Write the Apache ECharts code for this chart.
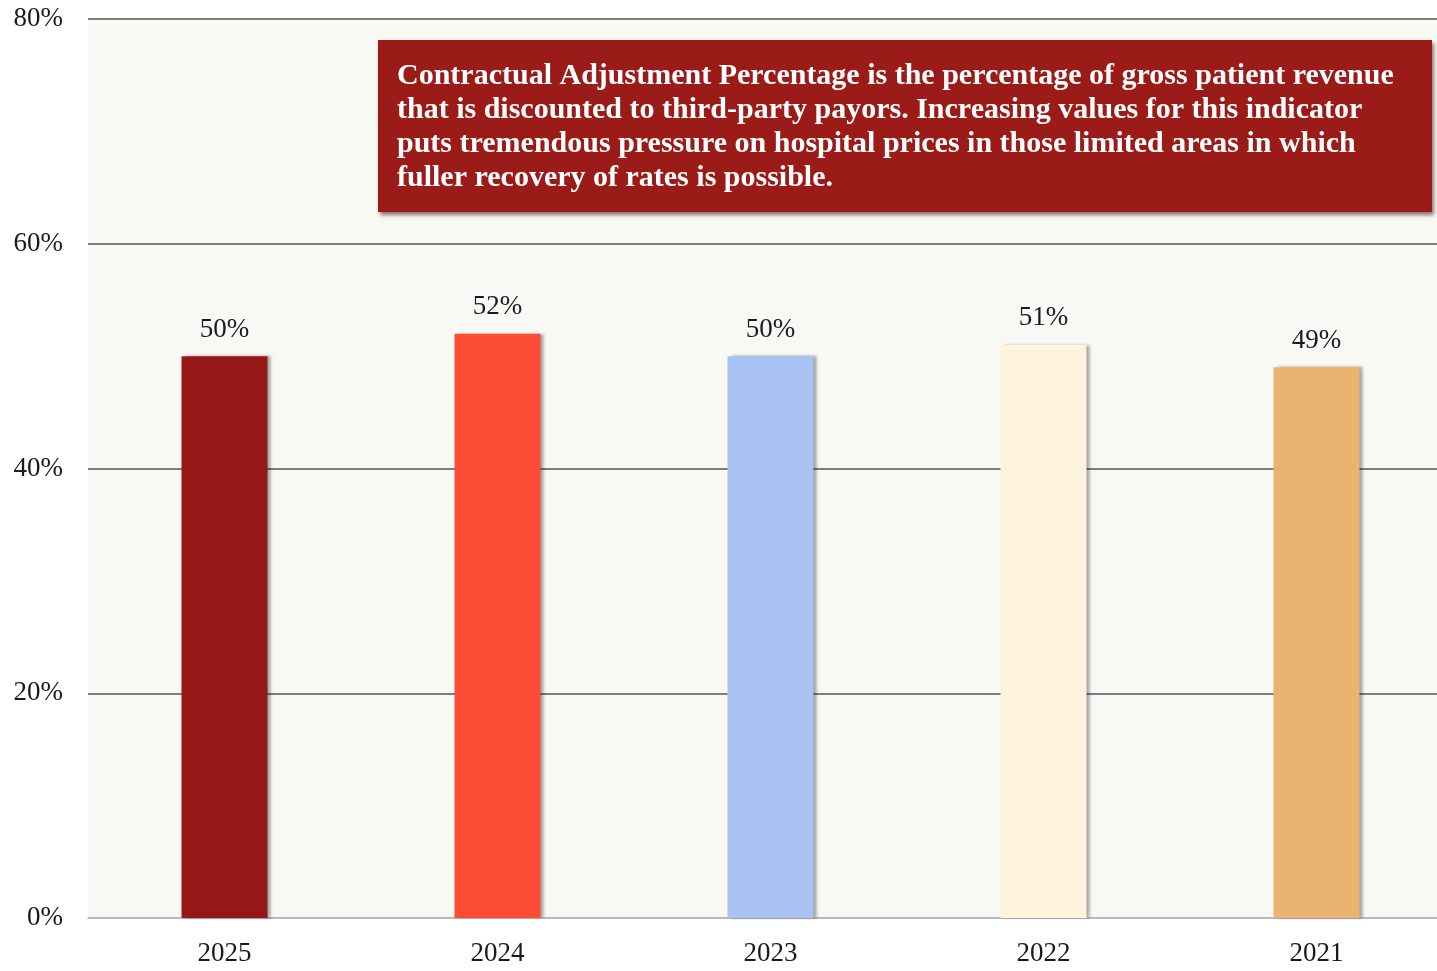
<!DOCTYPE html>
<html>
<head>
<meta charset="utf-8">
<script src="https://cdn.jsdelivr.net/npm/echarts@6/dist/echarts.min.js"></script>
<style>
  html, body { margin: 0; padding: 0; background: #ffffff; overflow: hidden; }
  #chart { width: 1437px; height: 971px; }
</style>
</head>
<body>
<div id="chart"></div>
<script>
// Fiscal years, most recent first
const years = ['2025', '2024', '2023', '2022', '2021'];
// Contractual adjustment percentage per year
const values = [50, 52, 50, 51, 49];
// Bar fill per year
const barColors = ['#961816', '#fb4d36', '#a8c3f3', '#fef4de', '#e9b46f'];
// Value axis ticks (percent)
const yTicks = [0, 20, 40, 60, 80];

const noteLines = [
  'Contractual Adjustment Percentage is the percentage of gross patient revenue',
  'that is discounted to third-party payors. Increasing values for this indicator',
  'puts tremendous pressure on hospital prices in those limited areas in which',
  'fuller recovery of rates is possible.'
];

const serif = '"Liberation Serif", "DejaVu Serif", serif';

const chart = echarts.init(document.getElementById('chart'));
chart.setOption({
  animation: false,
  backgroundColor: '#ffffff',
  grid: {
    left: 88, top: 19, width: 1365, height: 899,
    outerBoundsMode: 'none',
    containLabel: false,
    show: true, backgroundColor: '#f8f9f4', borderWidth: 0
  },
  xAxis: {
    type: 'category',
    data: years,
    axisLine: { show: true, lineStyle: { color: '#b5b5b5', width: 1.5 } },
    axisTick: { show: false },
    axisLabel: { color: '#1a1a1a', fontFamily: serif, fontSize: 27, margin: 22 }
  },
  yAxis: {
    type: 'value',
    min: yTicks[0], max: yTicks[yTicks.length - 1], interval: 20,
    axisLine: { show: false },
    axisTick: { show: false },
    axisLabel: { color: '#1a1a1a', fontFamily: serif, fontSize: 27, margin: 25, formatter: '{value}%' },
    splitLine: { lineStyle: { color: ['#b5b5b5', '#555555', '#555555', '#555555', '#555555'], width: 1.5 } }
  },
  series: [{
    type: 'bar',
    barWidth: 86,
    data: values.map((v, i) => ({
      value: v,
      itemStyle: { color: barColors[i] }
    })),
    itemStyle: {
      shadowColor: 'rgba(0,0,0,0.35)',
      shadowBlur: 3,
      shadowOffsetX: 3,
      shadowOffsetY: 0
    },
    label: {
      show: true,
      position: 'top',
      distance: 13,
      color: '#1a1a1a',
      fontFamily: serif,
      fontSize: 27,
      formatter: p => p.value + '%'
    }
  }],
  graphic: [{
    type: 'group',
    left: 378, top: 40,
    children: [{
      type: 'rect',
      shape: { x: 0, y: 0, width: 1054, height: 172 },
      style: {
        fill: '#9a1b18',
        shadowColor: 'rgba(40,0,0,0.55)',
        shadowBlur: 4,
        shadowOffsetX: 2,
        shadowOffsetY: 3
      }
    }, {
      type: 'text',
      x: 19, y: 19,
      style: {
        text: noteLines.join('\n'),
        fill: '#ffffff',
        font: 'bold 30px ' + serif,
        lineHeight: 34
      }
    }]
  }]
});
</script>
</body>
</html>
